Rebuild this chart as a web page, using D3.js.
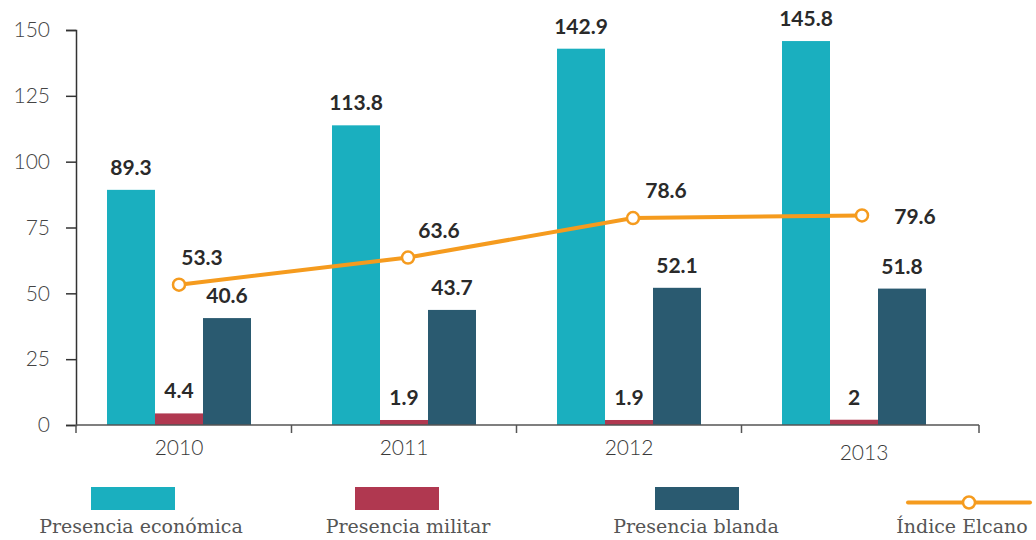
<!DOCTYPE html>
<html>
<head>
<meta charset="utf-8">
<script src="https://cdn.jsdelivr.net/npm/d3@7"></script>
<style>
  html, body { margin: 0; padding: 0; background: #fff; }
  svg { display: block; }
</style>
</head>
<body>
<svg id="chart" width="1036" height="540"></svg>
<script>
// ---- data ----
const years = ["2010", "2011", "2012", "2013"];
const seriesNames = ["Presencia económica", "Presencia militar", "Presencia blanda"];
const economica = [89.3, 113.8, 142.9, 145.8];
const militar = [4.4, 1.9, 1.9, 2];
const blanda = [40.6, 43.7, 52.1, 51.8];
const elcano = [53.3, 63.6, 78.6, 79.6];
const lineName = "Índice Elcano";
const yTicks = [0, 25, 50, 75, 100, 125, 150];

// ---- styles ----
const colors = ["#1aafbf", "#b03850", "#2a5a70"];
const lineColor = "#f59b1e";

const svg = d3.select("#chart");
const axisLeftX = 76, axisRightX = 979, baseY = 425;

const x = d3.scaleBand().domain(years).range([66.5, 966.5]).paddingInner(0.36).paddingOuter(0.18);
const xs = d3.scaleBand().domain(seriesNames).range([0, x.bandwidth()]);
const y = d3.scaleLinear().domain([0, 150]).range([baseY, 30]);

const seriesValues = [economica, militar, blanda];

// bars
const g = svg.append("g");
seriesValues.forEach((vals, si) => {
  g.selectAll(null).data(vals).enter().append("rect")
    .attr("x", (d, i) => x(years[i]) + xs(seriesNames[si]))
    .attr("y", d => y(d))
    .attr("width", xs.bandwidth())
    .attr("height", d => baseY - y(d))
    .attr("fill", colors[si]);
  g.selectAll(null).data(vals).enter().append("text")
    .attr("x", (d, i) => x(years[i]) + xs(seriesNames[si]) + xs.bandwidth() / 2)
    .attr("y", d => y(d) - 15)
    .attr("text-anchor", "middle")
    .attr("font-family", "Lato, 'Open Sans', sans-serif")
    .attr("font-weight", 700)
    .attr("font-size", 21)
    .attr("fill", "#2a2a2a")
    .text(d => d);
});

// y axis
const yAxis = d3.axisLeft(y).tickValues(yTicks).tickSize(10).tickPadding(16).tickFormat(d3.format("d"));
const yg = svg.append("g").attr("transform", `translate(${axisLeftX},0)`).call(yAxis);
yg.select(".domain").attr("stroke", "#333").attr("stroke-width", 1.5);
yg.selectAll(".tick line").attr("stroke", "#333").attr("stroke-width", 1.5);
yg.selectAll(".tick text")
  .attr("font-family", "Lato, 'Open Sans', sans-serif")
  .attr("font-weight", 300)
  .attr("font-size", 21)
  .attr("fill", "#444");

// x axis line and boundary ticks
svg.append("line").attr("x1", axisLeftX).attr("x2", axisRightX)
  .attr("y1", baseY).attr("y2", baseY).attr("stroke", "#555").attr("stroke-width", 1.5);
const step = x.step();
const boundaries = [axisLeftX].concat(years.slice(1).map(yr => x(yr) - (step - x.bandwidth()) / 2)).concat([axisRightX]);
svg.selectAll(null).data(boundaries).enter().append("line")
  .attr("x1", d => d).attr("x2", d => d)
  .attr("y1", baseY).attr("y2", baseY + 8)
  .attr("stroke", "#555").attr("stroke-width", 1.5);
svg.selectAll(null).data(years).enter().append("text")
  .attr("x", (d, i) => x(d) + x.bandwidth() / 2 + (i === 3 ? 10 : 0))
  .attr("y", (d, i) => 455 + (i === 3 ? 5 : 0))
  .attr("text-anchor", "middle")
  .attr("font-family", "Lato, 'Open Sans', sans-serif")
  .attr("font-weight", 300)
  .attr("font-size", 21)
  .attr("fill", "#3a3a3a")
  .text(d => d);

// line
const cx = (d, i) => x(years[i]) + x.bandwidth() / 2 + [0, 4, 4, 8][i];
const line = d3.line().x((d, i) => cx(d, i)).y(d => y(d));
svg.append("path").datum(elcano).attr("d", line)
  .attr("fill", "none").attr("stroke", lineColor).attr("stroke-width", 4);
svg.selectAll(null).data(elcano).enter().append("circle")
  .attr("cx", cx).attr("cy", d => y(d)).attr("r", 6)
  .attr("fill", "#fff").attr("stroke", lineColor).attr("stroke-width", 2.5);
svg.selectAll(null).data(elcano).enter().append("text")
  .attr("x", (d, i) => cx(d, i) + (i === 3 ? 53 : [23, 31, 33][i]))
  .attr("y", (d, i) => y(d) + (i === 3 ? 9 : -20))
  .attr("text-anchor", "middle")
  .attr("font-family", "Lato, 'Open Sans', sans-serif")
  .attr("font-weight", 700)
  .attr("font-size", 21)
  .attr("fill", "#2a2a2a")
  .text(d => d);

// legend
const legendCenters = [133, 397, 697, 969];
const legendFont = "'DejaVu Serif', serif";
seriesNames.forEach((name, i) => {
  svg.append("rect").attr("x", legendCenters[i] - 42).attr("y", 487)
    .attr("width", 84).attr("height", 23).attr("fill", colors[i]);
});
svg.append("line").attr("x1", 908).attr("x2", 1030).attr("y1", 502.5).attr("y2", 502.5)
  .attr("stroke", lineColor).attr("stroke-width", 4).attr("stroke-linecap", "round");
svg.append("circle").attr("cx", legendCenters[3]).attr("cy", 502.5).attr("r", 6)
  .attr("fill", "#fff").attr("stroke", lineColor).attr("stroke-width", 2.5);
const legendNames = seriesNames.concat([lineName]);
svg.selectAll(null).data(legendNames).enter().append("text")
  .attr("x", (d, i) => [141, 408, 696, 962][i])
  .attr("y", 533)
  .attr("text-anchor", "middle")
  .attr("font-family", legendFont)
  .attr("font-size", 19)
  .attr("fill", "#555")
  .text(d => d);
</script>
</body>
</html>
